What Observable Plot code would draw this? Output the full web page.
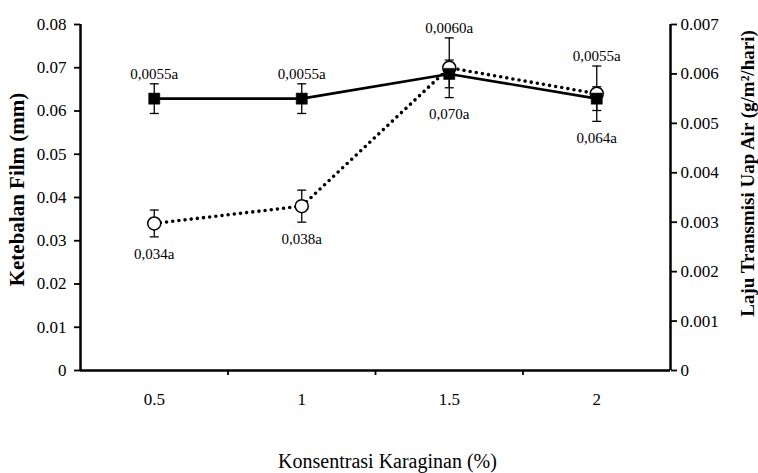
<!DOCTYPE html>
<html>
<head>
<meta charset="utf-8">
<script src="https://cdn.jsdelivr.net/npm/d3@7"></script>
<script src="https://cdn.jsdelivr.net/npm/@observablehq/plot@0.6"></script>
<style>
  html, body { margin: 0; padding: 0; background: #fff; }
  #chart svg { display: block; }
</style>
</head>
<body>
<div id="chart"></div>
<script>
// ---- data ----
const concentrations = [0.5, 1, 1.5, 2];
const xTickLabels = ["0.5", "1", "1.5", "2"];
const thickness = [0.034, 0.038, 0.070, 0.064];          // mm (left axis)
const thicknessErr = [0.0031, 0.0037, 0.0069, 0.0064];
const thicknessLabels = ["0,034a", "0,038a", "0,070a", "0,064a"];
const wvtr = [0.0055, 0.0055, 0.0060, 0.0055];            // g/m2/hari (right axis)
const wvtrErr = [0.0003, 0.0003, 0.00028, 0.00024];
const wvtrLabels = ["0,0055a", "0,0055a", "0,0060a", "0,0055a"];
const leftTicks = [0, 0.01, 0.02, 0.03, 0.04, 0.05, 0.06, 0.07, 0.08];
const leftTickLabels = ["0", "0.01", "0.02", "0.03", "0.04", "0.05", "0.06", "0.07", "0.08"];
const rightTicks = [0, 0.001, 0.002, 0.003, 0.004, 0.005, 0.006, 0.007];
const rightTickLabels = ["0", "0.001", "0.002", "0.003", "0.004", "0.005", "0.006", "0.007"];
const xTitle = "Konsentrasi Karaginan (%)";
const leftTitle = "Ketebalan Film (mm)";
const rightTitle = "Laju Transmisi Uap Air (g/m²/hari)";

// ---- derived ----
const leftMax = leftTicks[leftTicks.length - 1];
const rightMax = rightTicks[rightTicks.length - 1];
const k = leftMax / rightMax; // right-axis value -> left-axis units
const step = concentrations[1] - concentrations[0];
const xDomain = [concentrations[0] - step / 2, concentrations[concentrations.length - 1] + step / 2];
const boundaries = concentrations.slice(1).map((c, i) => (c + concentrations[i]) / 2);

const data = concentrations.map((c, i) => {
  const tTop = thickness[i] + thicknessErr[i], tBot = thickness[i] - thicknessErr[i];
  const wTop = (wvtr[i] + wvtrErr[i]) * k, wBot = (wvtr[i] - wvtrErr[i]) * k;
  return {
    x: c,
    t: thickness[i], tTop, tBot,
    w: wvtr[i] * k, wTop, wBot,
    labelTop: Math.max(tTop, wTop),
    labelBot: Math.min(tBot, wBot),
    tLabel: thicknessLabels[i],
    wLabel: wvtrLabels[i]
  };
});
const caps = data.flatMap(d => [
  {x: d.x, y: d.tTop}, {x: d.x, y: d.tBot},
  {x: d.x, y: d.wTop}, {x: d.x, y: d.wBot}
]);

const rightTickPos = rightTicks.map(v => v * k);
const capSymbol = {
  draw(ctx, size) {
    const w = Math.sqrt(size / Math.PI);
    ctx.moveTo(-w, 0);
    ctx.lineTo(w, 0);
  }
};

const font = "'Liberation Serif', 'Times New Roman', serif";

const chart = Plot.plot({
  width: 758,
  height: 473,
  marginLeft: 80,
  marginRight: 88,
  marginTop: 24,
  marginBottom: 103,
  style: {fontFamily: font, background: "#fff", color: "#000"},
  x: {type: "linear", domain: xDomain},
  y: {domain: [0, leftMax]},
  marks: [
    // axis lines
    Plot.ruleY([0], {stroke: "#000", strokeWidth: 2.5}),
    Plot.ruleX([xDomain[0]], {stroke: "#000", strokeWidth: 2.5}),
    Plot.ruleX([xDomain[1]], {stroke: "#000", strokeWidth: 2.5}),
    // axes
    Plot.axisY({
      anchor: "left", ticks: leftTicks, tickSize: 6, tickPadding: 8,
      tickFormat: d => leftTickLabels[leftTicks.indexOf(d)],
      fontSize: 17, strokeWidth: 1.8, label: null, fontFamily: font
    }),
    Plot.axisY({
      anchor: "right", ticks: rightTickPos, tickSize: 6, tickPadding: 4,
      tickFormat: d => rightTickLabels[rightTickPos.indexOf(d)],
      fontSize: 17, strokeWidth: 1.8, label: null, fontFamily: font
    }),
    Plot.axisX({
      anchor: "bottom", ticks: boundaries, tickSize: 5, tickFormat: () => "",
      strokeWidth: 1.8, label: null
    }),
    Plot.axisX({
      anchor: "bottom", ticks: concentrations, tickSize: 0, tickPadding: 22,
      tickFormat: d => xTickLabels[concentrations.indexOf(d)],
      fontSize: 17, label: null, fontFamily: font
    }),
    // thickness series (dotted, open circles)
    Plot.line(data, {x: "x", y: "t", stroke: "#000", strokeWidth: 3.6,
      strokeDasharray: "0,6.2", strokeLinecap: "round"}),
    Plot.ruleX(data, {x: "x", y1: "tBot", y2: "tTop", stroke: "#000", strokeWidth: 1.3}),
    // wvtr series (solid, squares)
    Plot.line(data, {x: "x", y: "w", stroke: "#000", strokeWidth: 2.6}),
    Plot.ruleX(data, {x: "x", y1: "wBot", y2: "wTop", stroke: "#000", strokeWidth: 1.3}),
    Plot.dot(caps, {x: "x", y: "y", symbol: capSymbol, r: 4.5, stroke: "#000", strokeWidth: 1.3, fill: "none"}),
    Plot.dot(data, {x: "x", y: "t", r: 6.5, fill: "#fff", stroke: "#000", strokeWidth: 1.5}),
    Plot.dot(data, {x: "x", y: "w", symbol: "square", r: 6.3, fill: "#000", stroke: "#000", strokeWidth: 0.5}),
    // value labels
    Plot.text(data, {x: "x", y: "labelTop", text: "wLabel", lineAnchor: "bottom", dy: -5,
      fontSize: 15, fill: "#000", fontFamily: font}),
    Plot.text(data, {x: "x", y: "labelBot", text: "tLabel", lineAnchor: "top", dy: 11,
      fontSize: 15, fill: "#000", fontFamily: font}),
    // titles
    Plot.text([leftTitle], {text: d => d, frameAnchor: "left", textAnchor: "middle", lineAnchor: "middle",
      dx: -63, dy: -8, rotate: -90, fontSize: 21, fontWeight: "bold", fill: "#000", fontFamily: font,
      letterSpacing: 1.1}),
    Plot.text([rightTitle], {text: d => d, frameAnchor: "right", textAnchor: "middle", lineAnchor: "middle",
      dx: 77, dy: -24, rotate: -90, fontSize: 19, fontWeight: "bold", fill: "#000", fontFamily: font,
      letterSpacing: 1.1}),
    Plot.text([xTitle], {text: d => d, frameAnchor: "bottom", textAnchor: "middle", lineAnchor: "middle",
      dx: 12, dy: 91, fontSize: 20, fill: "#000", fontFamily: font, letterSpacing: 0.2})
  ]
});
document.getElementById("chart").appendChild(chart);
</script>
</body>
</html>
